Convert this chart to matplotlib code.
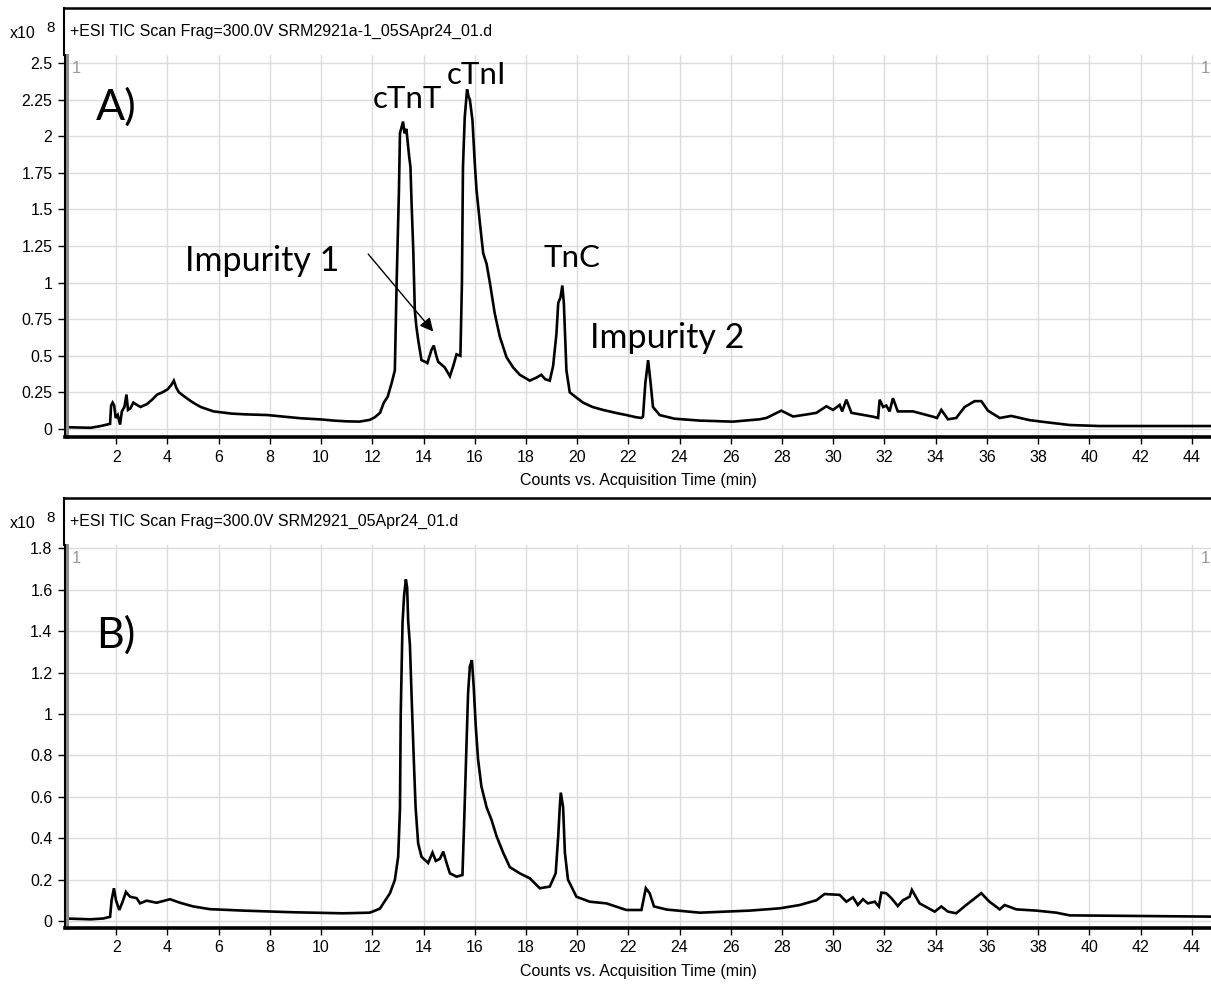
import matplotlib.pyplot as plt
from matplotlib.lines import Line2D

# ---- TIC trace, SRM2921a-1 (panel A), intensity in 1e8 counts ----
time_a = [0.0, 0.5, 1.0, 1.4, 1.76, 1.80, 1.86, 1.92, 1.98, 2.06, 2.15, 2.22,
          2.32, 2.40, 2.46, 2.55, 2.67, 2.80, 2.95, 3.2, 3.4, 3.6, 3.8, 4.0,
          4.15, 4.25, 4.35, 4.45, 4.75, 5.0, 5.3, 5.8, 6.5, 7.0, 7.9, 8.5,
          9.2, 10.0, 10.5, 11.0, 11.5, 11.9, 12.1, 12.3, 12.45, 12.6, 12.75,
          12.88, 12.95, 13.04, 13.08, 13.14, 13.2, 13.26, 13.33, 13.44, 13.49,
          13.53, 13.6, 13.66, 13.72, 13.79, 13.92, 14.05, 14.15, 14.31, 14.4,
          14.5, 14.57, 14.7, 14.83, 15.03, 15.16, 15.29, 15.44, 15.50, 15.54,
          15.61, 15.7, 15.76, 15.81, 15.91, 16.0, 16.07, 16.2, 16.33, 16.46,
          16.59, 16.78, 16.98, 17.24, 17.5, 17.76, 18.15, 18.4, 18.6, 18.75,
          18.93, 19.06, 19.19, 19.26, 19.35, 19.42, 19.48, 19.58, 19.71, 20.0,
          20.23, 20.6, 21.01, 21.5, 21.92, 22.3, 22.51, 22.57, 22.66, 22.77,
          22.87, 22.96, 23.22, 23.8, 24.79, 26.08, 27.13, 27.39, 27.97, 28.43,
          29.0, 29.34, 29.73, 29.99, 30.25, 30.35, 30.51, 30.71, 31.2, 31.55,
          31.75, 31.81, 31.95, 32.07, 32.2, 32.33, 32.52, 33.11, 33.89, 34.05,
          34.22, 34.48, 34.8, 35.13, 35.52, 35.78, 36.04, 36.5, 36.95, 37.67,
          38.45, 39.23, 40.4, 44.75]
counts_a = [0.012, 0.010, 0.008, 0.02, 0.035, 0.16, 0.18, 0.16, 0.075, 0.095,
            0.03, 0.12, 0.15, 0.235, 0.13, 0.14, 0.18, 0.165, 0.15, 0.17, 0.2,
            0.235, 0.25, 0.27, 0.3, 0.33, 0.28, 0.25, 0.21, 0.18, 0.15, 0.12,
            0.105, 0.1, 0.095, 0.085, 0.073, 0.065, 0.057, 0.052, 0.05, 0.062,
            0.08, 0.11, 0.18, 0.22, 0.31, 0.40, 1.0, 1.63, 2.02, 2.06, 2.10,
            2.02, 2.05, 1.86, 1.79, 1.56, 1.22, 0.81, 0.7, 0.61, 0.47, 0.46,
            0.45, 0.54, 0.57, 0.5, 0.46, 0.44, 0.42, 0.36, 0.43, 0.51, 0.50,
            1.0, 1.79, 2.13, 2.32, 2.27, 2.25, 2.11, 1.82, 1.63, 1.41, 1.2,
            1.13, 1.0, 0.79, 0.63, 0.49, 0.42, 0.37, 0.33, 0.35, 0.37, 0.34,
            0.33, 0.43, 0.65, 0.86, 0.9, 0.98, 0.86, 0.40, 0.25, 0.21, 0.18,
            0.15, 0.13, 0.11, 0.095, 0.08, 0.075, 0.084, 0.31, 0.47, 0.31,
            0.15, 0.095, 0.07, 0.057, 0.05, 0.066, 0.075, 0.125, 0.085, 0.1,
            0.11, 0.155, 0.13, 0.164, 0.12, 0.20, 0.11, 0.095, 0.084, 0.075,
            0.20, 0.15, 0.16, 0.12, 0.21, 0.12, 0.12, 0.084, 0.075, 0.13,
            0.066, 0.075, 0.15, 0.19, 0.19, 0.125, 0.075, 0.089, 0.06, 0.043,
            0.027, 0.02, 0.02]

# ---- TIC trace, SRM2921 (panel B) ----
time_b = [0.0, 1.0, 1.5, 1.76, 1.82, 1.91, 1.99, 2.12, 2.25, 2.38, 2.54, 2.8,
          2.93, 3.19, 3.58, 4.1, 4.49, 5.01, 5.66, 6.96, 8.91, 10.86, 11.9,
          12.17, 12.3, 12.43, 12.69, 12.88, 13.01, 13.08, 13.11, 13.18, 13.24,
          13.31, 13.36, 13.4, 13.47, 13.53, 13.62, 13.69, 13.79, 13.92, 14.18,
          14.35, 14.48, 14.64, 14.77, 14.9, 15.03, 15.29, 15.52, 15.59, 15.68,
          15.74, 15.81, 15.89, 15.96, 16.04, 16.13, 16.26, 16.46, 16.65,
          16.85, 17.11, 17.37, 17.76, 18.15, 18.54, 18.93, 19.16, 19.26,
          19.32, 19.36, 19.45, 19.52, 19.64, 19.97, 20.49, 21.14, 21.92,
          22.51, 22.68, 22.83, 23.0, 23.5, 24.79, 26.74, 27.91, 28.69, 29.34,
          29.66, 30.25, 30.51, 30.77, 30.96, 31.16, 31.35, 31.62, 31.78,
          31.88, 32.07, 32.27, 32.52, 32.72, 32.98, 33.07, 33.37, 33.96,
          34.22, 34.48, 34.8, 35.19, 35.78, 36.1, 36.5, 36.69, 37.15, 37.93,
          38.71, 39.23, 44.75]
counts_b = [0.012, 0.008, 0.012, 0.02, 0.10, 0.158, 0.10, 0.053, 0.093, 0.14,
            0.117, 0.11, 0.085, 0.098, 0.088, 0.105, 0.088, 0.07, 0.057, 0.05,
            0.042, 0.037, 0.04, 0.053, 0.06, 0.085, 0.134, 0.198, 0.31, 0.54,
            1.0, 1.44, 1.57, 1.65, 1.61, 1.45, 1.33, 1.1, 0.78, 0.55, 0.375,
            0.31, 0.28, 0.33, 0.29, 0.30, 0.335, 0.28, 0.23, 0.214, 0.222,
            0.49, 0.86, 1.1, 1.23, 1.26, 1.13, 0.94, 0.78, 0.65, 0.55, 0.49,
            0.41, 0.33, 0.26, 0.23, 0.206, 0.158, 0.166, 0.23, 0.41, 0.55,
            0.62, 0.55, 0.33, 0.2, 0.117, 0.093, 0.085, 0.053, 0.053, 0.158,
            0.134, 0.07, 0.055, 0.04, 0.05, 0.061, 0.077, 0.1, 0.13, 0.126,
            0.093, 0.114, 0.077, 0.105, 0.085, 0.093, 0.07, 0.137, 0.134,
            0.11, 0.072, 0.1, 0.117, 0.15, 0.085, 0.045, 0.07, 0.045, 0.037,
            0.077, 0.134, 0.093, 0.056, 0.077, 0.056, 0.05, 0.04, 0.027,
            0.021]

titles = ['+ESI TIC Scan Frag=300.0V SRM2921a-1_05SApr24_01.d',
          '+ESI TIC Scan Frag=300.0V SRM2921_05Apr24_01.d']
yticks_a = [0, 0.25, 0.5, 0.75, 1, 1.25, 1.5, 1.75, 2, 2.25, 2.5]
yticks_b = [0, 0.2, 0.4, 0.6, 0.8, 1, 1.2, 1.4, 1.6, 1.8]
xticks = list(range(2, 45, 2))

W, H = 1211, 986
tick_font = 'Liberation Sans'
note_font = ['Lato', 'DejaVu Sans']

fig = plt.figure(figsize=(W / 100, H / 100), dpi=100)


def px(x, y):
    return x / W, 1 - y / H


def panel(top_px, plot_top_px, bottom_px, ylim, yticks, t, c, title):
    x0, y1 = px(65, plot_top_px)
    _, y0 = px(65, bottom_px)
    ax = fig.add_axes([x0, y0, 1 - x0, y1 - y0])
    ax.plot(t, c, color='black', lw=1.9, solid_joinstyle='miter')
    ax.set_xlim(0, 44.75)
    ax.set_ylim(*ylim)
    ax.set_xticks(xticks)
    ax.set_yticks(yticks)
    ax.set_yticklabels(['%g' % v for v in yticks])
    ax.grid(True, color='#dcdcdc', lw=1)
    ax.set_axisbelow(True)
    for s in ('top', 'right'):
        ax.spines[s].set_visible(False)
    ax.spines['bottom'].set_linewidth(2.6)
    ax.spines['left'].set_linewidth(1.5)
    ax.tick_params(direction='out', length=5, width=1, labelsize=11.5,
                   pad=4, colors='black')
    for lab in ax.get_xticklabels() + ax.get_yticklabels():
        lab.set_fontfamily(tick_font)
    ax.set_xlabel('Counts vs. Acquisition Time (min)', fontsize=11.5,
                  fontfamily=tick_font, labelpad=6)
    # gray inner edge of the data area
    ax.add_line(Line2D([0.0015, 0.0015], [0, 1], transform=ax.transAxes,
                       color='#8c8c8c', lw=2.2, clip_on=False))
    ax.text(0.006, 0.985, '1', transform=ax.transAxes, ha='left', va='top',
            color='#999999', fontsize=12, fontfamily=tick_font)
    ax.text(0.999, 0.985, '1', transform=ax.transAxes, ha='right', va='top',
            color='#999999', fontsize=12, fontfamily=tick_font)

    # title strip frame
    fig.add_artist(Line2D([64 / W, 1], [px(0, top_px)[1]] * 2,
                          transform=fig.transFigure, color='black', lw=1.8))
    fig.add_artist(Line2D([64 / W] * 2, [px(0, top_px)[1], y1],
                          transform=fig.transFigure, color='black', lw=1.5))
    fig.text(70 / W, px(0, top_px + 23)[1], title, ha='left', va='center',
             fontsize=11.5, fontfamily=tick_font)
    fig.text(10 / W, px(0, top_px + 26)[1], 'x10', ha='left', va='center',
             fontsize=11.5, fontfamily=tick_font)
    fig.text(46 / W, px(0, top_px + 20)[1], '8', ha='left', va='center',
             fontsize=11, fontfamily=tick_font)
    return ax


ax_a = panel(8, 55, 437, (-0.055, 2.555), yticks_a, time_a, counts_a,
             titles[0])
ax_b = panel(498, 545, 928, (-0.034, 1.816), yticks_b, time_b, counts_b,
             titles[1])

# peak labels, panel A
ax_a.text(1.2, 2.2, 'A)', fontsize=31, fontfamily=note_font, va='center')
ax_a.text(12.0, 2.255, 'cTnT', fontsize=22.5, fontfamily=note_font,
          va='center')
ax_a.text(14.9, 2.42, 'cTnI', fontsize=22.5, fontfamily=note_font,
          va='center')
ax_a.text(4.7, 1.15, 'Impurity 1', fontsize=24.5, fontfamily=note_font,
          va='center')
ax_a.text(18.7, 1.17, 'TnC', fontsize=22.5, fontfamily=note_font,
          va='center')
ax_a.text(20.5, 0.62, 'Impurity 2', fontsize=24.5, fontfamily=note_font,
          va='center')
ax_a.annotate('', xy=(14.38, 0.665), xytext=(11.84, 1.195),
              arrowprops=dict(arrowstyle='-|>', color='black', lw=1,
                              mutation_scale=20, shrinkA=0, shrinkB=0))

ax_b.text(1.2, 1.38, 'B)', fontsize=31, fontfamily=note_font, va='center')

fig.savefig('out.png', dpi=100)
